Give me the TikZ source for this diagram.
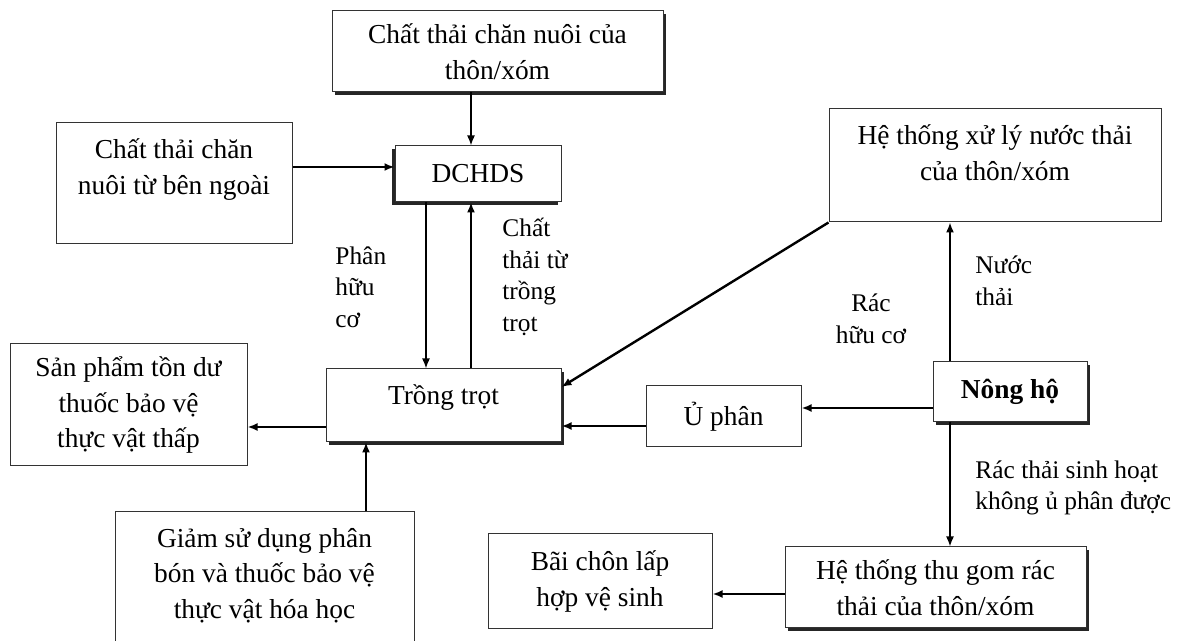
\documentclass[tikz,border=0pt]{standalone}
\usepackage{fontspec}
\setmainfont{Liberation Serif}
\usetikzlibrary{positioning}
\usetikzlibrary{shadows,arrows.meta}
\newcommand{\px}{0.5pt}

\begin{document}
\begin{tikzpicture}[x=\px,y=-\px]
\tikzstyle{every node}=[font=\fontsize{13.7}{17.75}\selectfont]
\tikzstyle{box}=[draw=black!80, line width=0.5pt, fill=white, align=center, inner sep=3pt]
\tikzset{shadowbox/.style={box, drop shadow={shadow xshift=#1, shadow yshift=-1.5pt, opacity=1, fill=black!85}}, shadowbox/.default=1.5pt}
\tikzstyle{lbl}=[font=\fontsize{12.7}{15.75}\selectfont, inner sep=0pt]
\tikzstyle{arr}=[line width=0.8pt, -{Latex[length=5pt,width=4pt]}]
\tikzstyle{thickarr}=[line width=1.2pt, -{Latex[length=5pt,width=4pt]}]

	\useasboundingbox (0,0) rectangle (1180,641);

% Boxes
	\node[shadowbox, minimum width=331*\px, minimum height=81*\px] (topsrc) at (497.5,51.5) {Chất thải chăn nuôi của\\thôn/xóm};
	\node[box, minimum width=236*\px, minimum height=121*\px, text depth=17pt] (extsrc) at (174,183.5) {Chất thải chăn\\nuôi từ bên ngoài};
	\node[shadowbox=-1.5pt, minimum width=166*\px, minimum height=56*\px] (dchds) at (478,174) {DCHDS};
	\node[box, minimum width=332*\px, minimum height=113*\px, text depth=13pt] (wwt) at (995,165.5) {Hệ thống xử lý nước thải\\của thôn/xóm};
	\node[shadowbox, minimum width=235*\px, minimum height=73*\px, text depth=11pt] (crop) at (443.5,405.5) {Trồng trọt};
	\node[box, minimum width=237*\px, minimum height=122*\px] (residue) at (128.5,405) {Sản phẩm tồn dư\\thuốc bảo vệ\\thực vật thấp};
	\node[box, minimum width=299*\px, minimum height=138*\px, text depth=8pt] (reduce) at (264.5,581) {Giảm sử dụng phân\\bón và thuốc bảo vệ\\thực vật hóa học};
	\node[box, minimum width=155*\px, minimum height=61*\px] (compost) at (723.5,416.5) {Ủ phân};
	\node[shadowbox, minimum width=154*\px, minimum height=60*\px] (farm) at (1010,392) {\textbf{Nông hộ}};
	\node[box, minimum width=224*\px, minimum height=95*\px] (landfill) at (600,581.5) {Bãi chôn lấp\\hợp vệ sinh};
	\node[shadowbox, minimum width=301*\px, minimum height=81*\px] (collect) at (935.5,587.5) {Hệ thống thu gom rác\\thải của thôn/xóm};

% Arrows
	\draw[arr] (471,0 |- topsrc.south) -- (471,0 |- dchds.north);
	\draw[thickarr] (extsrc.east |- 0,167) -- (dchds.west |- 0,167);
	\draw[arr] (426,0 |- dchds.south) -- (426,0 |- crop.north);
	\draw[arr] (471,0 |- crop.north) -- (471,0 |- dchds.south);
	\draw[thickarr] (wwt.south west) -- (crop.east |- 0,387);
	\draw[arr] (950,0 |- farm.north) -- (950,0 |- wwt.south);
	\draw[thickarr] (farm.west |- 0,408) -- (compost.east |- 0,408);
	\draw[thickarr] (compost.west |- 0,426) -- (crop.east |- 0,426);
	\draw[thickarr] (crop.west |- 0,427) -- (residue.east |- 0,427);
	\draw[arr] (366,0 |- reduce.north) -- (366,0 |- crop.south);
	\draw[arr] (950,0 |- farm.south) -- (950,0 |- collect.north);
	\draw[thickarr] (collect.west |- 0,594) -- (landfill.east |- 0,594);

% Labels
	\node[lbl, anchor=west, align=left] (phan) at (335,287) {Phân\\hữu\\cơ};
	\node[lbl, anchor=west, align=left] (chat) at (502,277) {Chất\\thải từ\\trồng\\trọt};
	\node[lbl, align=center] (rac) at (871,319) {Rác\\hữu cơ};
	\node[lbl, anchor=west, align=left] (nuoc) at (975,281) {Nước\\thải};
	\node[lbl, anchor=west, align=left] (sinhhoat) at (975,488) {Rác thải sinh hoạt\\không ủ phân được};

\end{tikzpicture}
\end{document}
